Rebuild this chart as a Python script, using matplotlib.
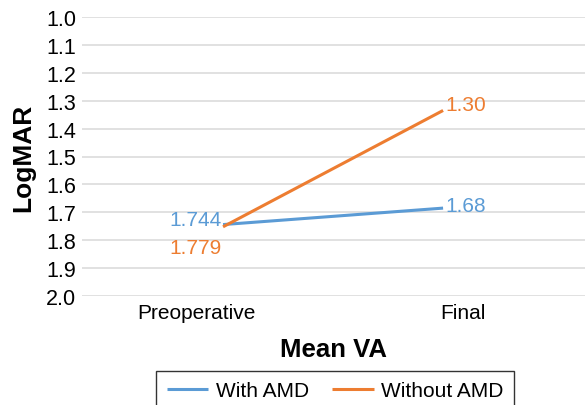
import matplotlib
matplotlib.use("Agg")
import matplotlib.pyplot as plt

plt.rcParams['font.family'] = ['Liberation Sans', 'DejaVu Sans']

# data (LogMAR, axis reversed)
stages = ['Preoperative', 'Final']
with_amd = [1.744, 1.685]
without_amd = [1.752, 1.335]
with_amd_labels = ['1.744', '1.68']
without_amd_labels = ['1.779', '1.30']
yticks = [1.0, 1.1, 1.2, 1.3, 1.4, 1.5, 1.6, 1.7, 1.8, 1.9, 2.0]

blue = '#5B9BD5'
orange = '#ED7D31'

fig = plt.figure(figsize=(5.85, 4.06), dpi=100)
ax = fig.add_axes([82 / 585, 109 / 406, 503 / 585, 279 / 406])

x = [0, 1]
ax.plot(x, with_amd, color=blue, lw=2.2, label='With AMD', solid_capstyle='butt')
ax.plot(x, without_amd, color=orange, lw=2.2, label='Without AMD', solid_capstyle='butt')

# data labels
ax.text(-0.005, 1.725, with_amd_labels[0], color=blue, fontsize=15, ha='right', va='center')
ax.text(-0.005, 1.825, without_amd_labels[0], color=orange, fontsize=15, ha='right', va='center')
ax.text(1.01, 1.315, without_amd_labels[1], color=orange, fontsize=15, ha='left', va='center')
ax.text(1.01, with_amd[1] - 0.01, with_amd_labels[1], color=blue, fontsize=15, ha='left', va='center')

ax.set_ylim(2.0, 1.0)
ax.set_yticks(yticks)
ax.set_yticklabels([f'{v:.1f}' for v in yticks], fontsize=15.5)
ax.set_xlim(-0.641, 1.645)
ax.set_xticks([-0.123, 1.09])
ax.set_xticklabels(stages, fontsize=15)
ax.tick_params(length=0, pad=5)
ax.tick_params(axis='y', pad=4)

ax.grid(axis='y', color='#D9D9D9', lw=1.1)
ax.set_axisbelow(True)
for s in ax.spines.values():
    s.set_visible(False)

ax.set_ylabel('LogMAR', fontsize=19, fontweight='bold', labelpad=8)
ax.set_xlabel('Mean VA', fontsize=18.5, fontweight='bold', labelpad=11)

leg = fig.legend(loc='upper center', bbox_to_anchor=(335 / 585, 34 / 406), ncol=2,
                 fontsize=15, frameon=True, fancybox=False, edgecolor='black',
                 handlelength=2.0, handletextpad=0.35, columnspacing=1.1,
                 borderpad=0.5, borderaxespad=0)
leg.get_frame().set_linewidth(1.0)

fig.savefig('out.png', dpi=100)
